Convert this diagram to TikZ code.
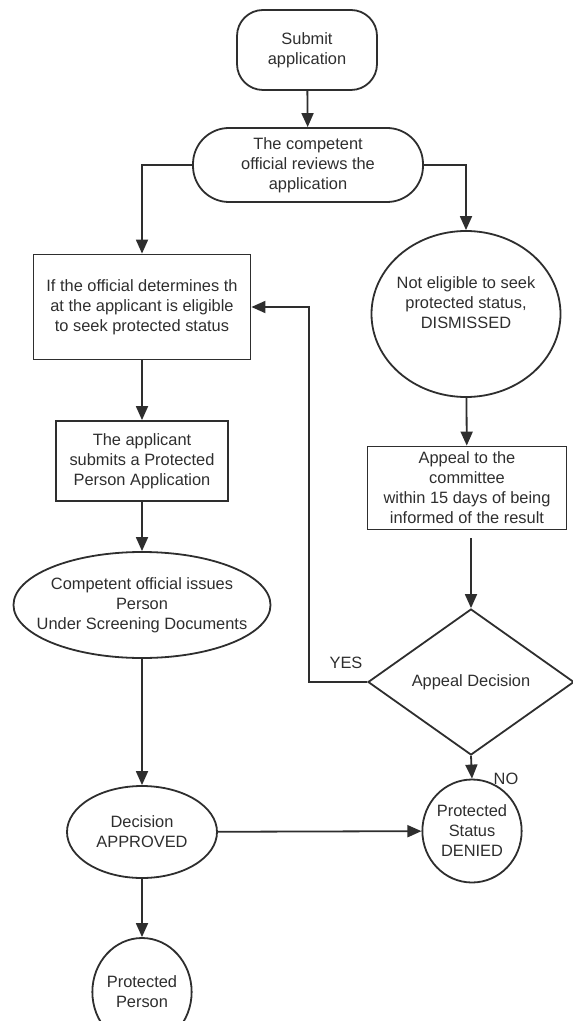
\documentclass[tikz,border=0pt]{standalone}
\usepackage{fontspec}
\setmainfont{Liberation Sans}
\usepackage{xcolor}
\usepackage{tikz}
\usetikzlibrary{shapes.geometric,arrows.meta}
\definecolor{ink}{HTML}{2E2E2E}

\begin{document}
\begin{tikzpicture}[x=0.5pt,y=-0.5pt,
  >={Triangle[length=7pt,width=6pt]},
  color=ink,line width=0.9pt,
  every node/.style={font=\fontsize{8.2}{10}\selectfont,align=center},
  box/.style={draw,rectangle,inner sep=2pt},
  roundbox/.style={draw,rectangle,rounded corners=#1,inner sep=2pt},
  oval/.style={draw,ellipse,inner sep=0pt},
  decide/.style={draw,diamond,inner sep=0pt}
]
\useasboundingbox (0,0) rectangle (572,1021);

\node[roundbox=13pt,minimum width=70pt,minimum height=40pt] (submit) at (307,50) {Submit\\application};
\node[roundbox=18pt,minimum width=115pt,minimum height=37pt] (review) at (308,165) {The competent\\official reviews the\\application};
\node[box,minimum width=108.5pt,minimum height=52.5pt] (eligible) at (142,307) {If the official determines th\\at the applicant is eligible\\to seek protected status};
\node[oval,minimum width=94.5pt,minimum height=83pt,inner xsep=-1.8pt,text depth=11pt] (notelig) at (466,314) {Not eligible to seek\\protected status,\\DISMISSED};
\node[box,minimum width=86pt,minimum height=40pt] (ppa) at (142,461) {The applicant\\submits a Protected\\Person Application};
\node[box,minimum width=99.5pt,minimum height=41.5pt] (appeal) at (467,488) {Appeal to the\\committee\\within 15 days of being\\informed of the result};
\node[oval,minimum width=128.5pt,minimum height=53pt,inner xsep=-7.5pt] (issues) at (142,605) {Competent official issues\\Person\\Under Screening Documents};
\node[decide,minimum width=103pt,minimum height=73pt] (decision) at (471,682) {Appeal Decision};
\node[oval,minimum width=75pt,minimum height=46pt] (approved) at (142,832) {Decision\\APPROVED};
\node[oval,minimum width=48pt,minimum height=51.5pt] (denied) at (472,831) {Protected\\Status\\DENIED};
\node[oval,minimum width=49.5pt,minimum height=54pt] (person) at (142,992) {Protected\\Person};

\node (yes) at (346,663) {YES};
\node (no) at (506,779) {NO};
\coordinate (loop) at (309,682);

\draw[->] (submit) -- (review);
\draw[->] (review.west) -| (eligible.north);
\draw[->] (review.east) -| (notelig.north);
\draw[->] (eligible) -- (ppa);
\draw[->] (ppa) -- (issues);
\draw[->] (issues) -- (approved);
\draw[->] (approved) -- (person);
\draw[->] (approved) -- (denied);
\draw[->] (notelig) -- (appeal);
\draw[->,shorten <=4pt] (decision.north |- appeal.south) -- (decision.north);
\draw[->] (decision.west) -- (loop) |- (eligible.east);
\draw[->] (decision.south) -- (denied.north);
\end{tikzpicture}
\end{document}
